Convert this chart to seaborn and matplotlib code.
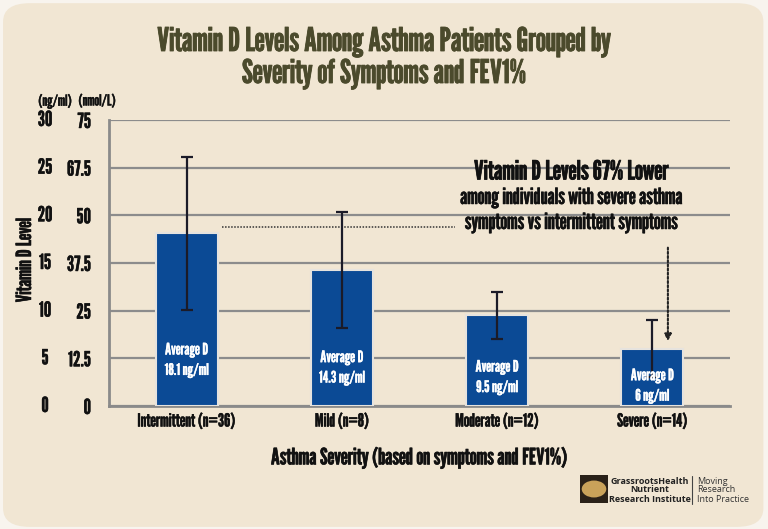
import matplotlib
matplotlib.use('Agg')
import matplotlib.pyplot as plt
import matplotlib.patheffects as pe
from matplotlib.patches import FancyBboxPatch, Rectangle, Circle
import seaborn as sns
import pandas as pd

categories = ["Intermittent (n=36)", "Mild (n=8)", "Moderate (n=12)", "Severe (n=14)"]
avg_d = [18.1, 14.3, 9.5, 6.0]
err_d = [8.0, 6.1, 2.5, 3.0]
bar_labels = ["18.1 ng/ml", "14.3 ng/ml", "9.5 ng/ml", "6 ng/ml"]
label_y = [4.8, 4.0, 3.0, 2.1]
ng_ticks = [0, 5, 10, 15, 20, 25, 30]
nmol_labels = ["0", "12.5", "25", "37.5", "50", "67.5", "75"]

BG = "#f1e6d3"
BLUE = "#0b4a95"
GRID = "#8c8c8c"
TITLE = "#4b4a2c"
INK = "#111111"
LOGO_FONT = ["Open Sans", "DejaVu Sans"]

sns.set_theme(style="white")
plt.rcParams['font.family'] = ["League Gothic", "DejaVu Sans"]


def heavy(color, w=0.45):
    # League Gothic only ships one weight; a thin stroke thickens it a little
    return [pe.withStroke(linewidth=w, foreground=color)]


df = pd.DataFrame({"severity": categories, "level": avg_d})

W, H = 768, 529
fig = plt.figure(figsize=(W / 100, H / 100), dpi=100)
fig.patch.set_facecolor("#f8f4ee")
bg = FancyBboxPatch((0.004, 0.004), 0.99, 0.99, boxstyle="round,pad=0,rounding_size=0.035",
                    transform=fig.transFigure, facecolor=BG, edgecolor="none", zorder=-10)
fig.patches.append(bg)

def fx(px):
    return px / W

def fy(py):
    return 1 - py / H

ax = fig.add_axes([fx(109), fy(406), fx(730) - fx(109), fy(120) - fy(406)])
ax.set_facecolor("none")

sns.barplot(data=df, x="severity", y="level", color=BLUE, width=0.4, saturation=1,
            edgecolor="#e6e3de", linewidth=1.5, ax=ax, zorder=3)
ax.errorbar(range(len(categories)), avg_d, yerr=err_d, fmt="none", ecolor="#1b1b28",
            elinewidth=1.6, capsize=4, capthick=1.6, zorder=4)

ax.set_xlim(-0.5, 3.5)
ax.set_ylim(0, 30)
ax.set_yticks(ng_ticks, labels=nmol_labels)
ax.grid(axis="y", color=GRID, linewidth=1.6, zorder=0)
ax.set_axisbelow(True)
for side in ["top", "right"]:
    ax.spines[side].set_visible(False)
ax.spines["left"].set_color("#8a8a8a")
ax.spines["left"].set_linewidth(2)
ax.spines["bottom"].set_color("#8a8a8a")
ax.spines["bottom"].set_linewidth(2)
ax.tick_params(axis="y", length=5, color="#c8c0b4", pad=8, labelsize=15, labelcolor=INK)
ax.tick_params(axis="x", length=0, pad=5, labelsize=13, labelcolor=INK)
for t in ax.get_yticklabels() + ax.get_xticklabels():
    t.set_path_effects(heavy(INK, 0.3))

for t, lab in zip(ng_ticks, [str(v) for v in ng_ticks]):
    ax.text(-0.103, t, lab, transform=ax.get_yaxis_transform(), ha="center", va="center",
            fontsize=15, color=INK, path_effects=heavy(INK, 0.3))

ax.set_xlabel("Asthma Severity (based on symptoms and FEV1%)", fontsize=16.2,
              color=INK, labelpad=12, path_effects=heavy(INK))
ax.set_ylabel("")

for i, (lab, yy) in enumerate(zip(bar_labels, label_y)):
    ax.text(i, yy, "Average D\n" + lab, ha="center", va="center", color="white",
            fontsize=11.5, linespacing=1.45, zorder=5, path_effects=heavy("white", 0.2))

# dotted reference line from the intermittent bar top
ax.plot([0.23, 1.73], [avg_d[0] + 0.7, avg_d[0] + 0.7], color="#333", linestyle=(0, (1, 1)),
        linewidth=1.1, zorder=2)
ax.annotate("", xy=(3.1, avg_d[3] + 0.5), xytext=(3.1, 16.9),
            arrowprops=dict(arrowstyle="-|>", linestyle=(0, (1, 1)), color="#222", lw=1.5,
                            mutation_scale=10), zorder=6)

fig.text(fx(384), fy(42), "Vitamin D Levels Among Asthma Patients Grouped by", ha="center",
         va="center", fontsize=23.5, color=TITLE, path_effects=heavy(TITLE, 0.6))
fig.text(fx(384), fy(74), "Severity of Symptoms and FEV1%", ha="center", va="center",
         fontsize=23.5, color=TITLE, path_effects=heavy(TITLE, 0.6))

fig.text(fx(571), fy(172), "Vitamin D Levels 67% Lower", ha="center", va="center",
         fontsize=19, color=INK, path_effects=heavy(INK, 0.5))
fig.text(fx(571), fy(198), "among individuals with severe asthma", ha="center", va="center",
         fontsize=16, color=INK, path_effects=heavy(INK, 0.35))
fig.text(fx(571), fy(223), "symptoms vs intermittent symptoms", ha="center", va="center",
         fontsize=16, color=INK, path_effects=heavy(INK, 0.35))

fig.text(fx(55), fy(101), "(ng/ml)", ha="center", va="center", fontsize=11, color=INK,
         path_effects=heavy(INK, 0.2))
fig.text(fx(97), fy(101), "(nmol/L)", ha="center", va="center", fontsize=11, color=INK,
         path_effects=heavy(INK, 0.2))
fig.text(fx(25), fy(260), "Vitamin D Level", ha="center", va="center", rotation=90,
         fontsize=15, color=INK, path_effects=heavy(INK, 0.4))

# logo
fig.patches.append(Rectangle((fx(580), fy(503)), fx(28), fy(475) - fy(503), transform=fig.transFigure,
                             facecolor="#2a2118", edgecolor="none"))
fig.patches.append(Circle((fx(594), fy(489)), 0.016, transform=fig.transFigure,
                          facecolor="#c9a25a", edgecolor="none"))
for yy, s in zip([481, 490, 500], ["GrassrootsHealth", "Nutrient", "Research Institute"]):
    fig.text(fx(650), fy(yy), s, ha="center", va="center", fontsize=6.5, fontweight="bold",
             color="#222", family=LOGO_FONT)
fig.add_artist(plt.Line2D([fx(692), fx(692)], [fy(504), fy(476)], color="#444", lw=0.8))
for yy, s in zip([481, 490, 500], ["Moving", "Research", "Into Practice"]):
    fig.text(fx(697), fy(yy), s, ha="left", va="center", fontsize=6.5, color="#333",
             family=LOGO_FONT)

fig.savefig("out.png", dpi=100, facecolor=fig.get_facecolor())
